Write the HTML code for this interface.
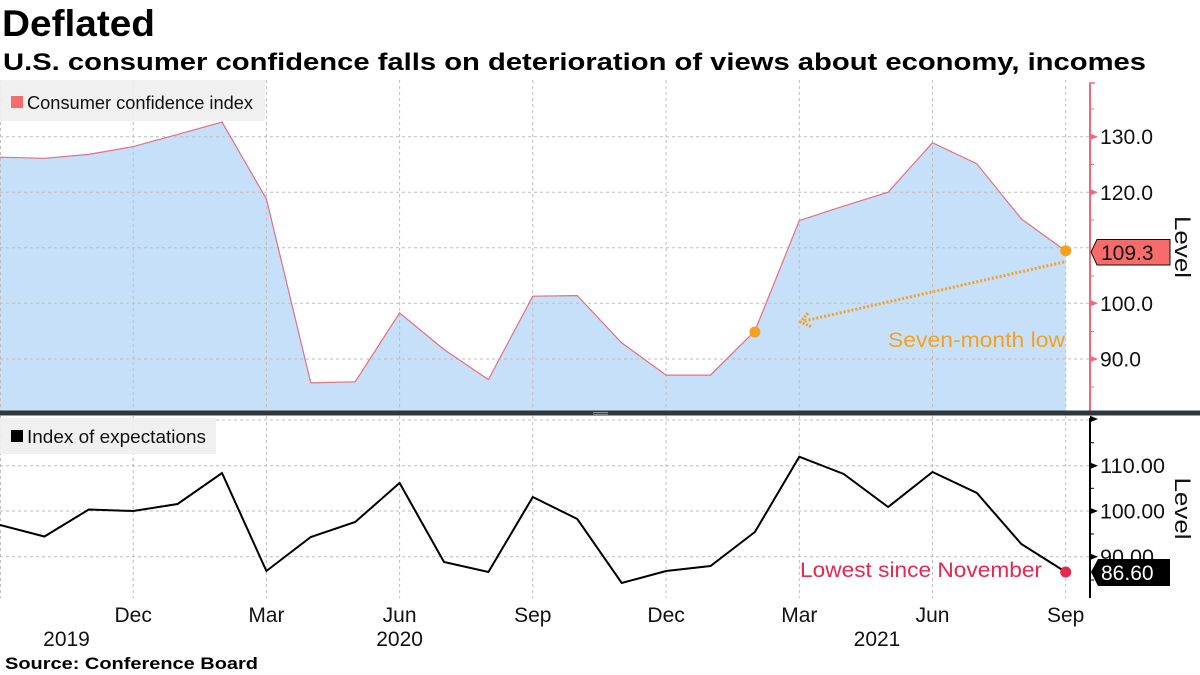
<!DOCTYPE html>
<html><head><meta charset="utf-8"><style>
html,body{margin:0;padding:0;background:#fff;}
svg{display:block;font-family:"Liberation Sans",sans-serif;}
</style></head><body>
<svg width="1200" height="675" viewBox="0 0 1200 675" xmlns="http://www.w3.org/2000/svg">
<rect width="1200" height="675" fill="#fff"/>
<text x="2" y="36" font-size="37" font-weight="bold" textLength="153" lengthAdjust="spacingAndGlyphs">Deflated</text>
<text x="3" y="70" font-size="24" font-weight="bold" textLength="1143" lengthAdjust="spacingAndGlyphs">U.S. consumer confidence falls on deterioration of views about economy, incomes</text>

<!-- top fill -->
<polygon fill="#c7e0fa" points="0,157.2 44.4,158.3 88.8,154.4 133.2,146.6 177.6,134.4 222,122.1 266.4,198.9 310.8,382.9 355.2,381.8 399.6,312.9 444,349.5 488.4,379.6 532.8,296.2 577.3,295.6 621.7,342.9 666.1,375.1 710.5,375.1 754.9,331 799.3,220.6 843.7,206.1 888.1,192.2 932.5,142.7 976.9,163.8 1021.3,218.9 1065.7,251 1065.7,411 0,411"/>

<!-- top grid -->
<g stroke="#bdbdbd" stroke-width="1" stroke-dasharray="3,3" fill="none">
<line x1="0" y1="136.7" x2="1089" y2="136.7"/>
<line x1="0" y1="192.3" x2="1089" y2="192.3"/>
<line x1="0" y1="247.8" x2="1089" y2="247.8"/>
<line x1="0" y1="303.3" x2="1089" y2="303.3"/>
<line x1="0" y1="359" x2="1089" y2="359"/>
<line x1="0.5" y1="80" x2="0.5" y2="411"/>
<line x1="133.2" y1="80" x2="133.2" y2="411"/>
<line x1="266.4" y1="80" x2="266.4" y2="411"/>
<line x1="399.6" y1="80" x2="399.6" y2="411"/>
<line x1="532.8" y1="80" x2="532.8" y2="411"/>
<line x1="666.1" y1="80" x2="666.1" y2="411"/>
<line x1="799.3" y1="80" x2="799.3" y2="411"/>
<line x1="932.5" y1="80" x2="932.5" y2="411"/>
<line x1="1065.7" y1="80" x2="1065.7" y2="411"/>
</g>

<!-- top legend -->
<rect x="0" y="80" width="265" height="41" fill="#efefef" fill-opacity="0.92"/>
<rect x="11" y="96" width="12" height="12" fill="#f76b6b"/>
<text x="27" y="109" font-size="18" textLength="226" lengthAdjust="spacingAndGlyphs" fill="#111">Consumer confidence index</text>

<!-- top line -->
<polyline fill="none" stroke="#e46f80" stroke-width="1.2" points="0,157.2 44.4,158.3 88.8,154.4 133.2,146.6 177.6,134.4 222,122.1 266.4,198.9 310.8,382.9 355.2,381.8 399.6,312.9 444,349.5 488.4,379.6 532.8,296.2 577.3,295.6 621.7,342.9 666.1,375.1 710.5,375.1 754.9,331 799.3,220.6 843.7,206.1 888.1,192.2 932.5,142.7 976.9,163.8 1021.3,218.9 1065.7,251"/>

<!-- arrow annotation -->
<line x1="1064" y1="262" x2="803" y2="321.3" stroke="#f4a21e" stroke-width="3" stroke-dasharray="2,2"/>
<polyline points="811,326.5 800.5,322 808,313" fill="none" stroke="#f4a21e" stroke-width="3" stroke-dasharray="2,1.5"/>
<circle cx="754.9" cy="332" r="5.5" fill="#f4a21e"/>
<circle cx="1065.7" cy="250.7" r="5.5" fill="#f4a21e"/>
<text x="888" y="347" font-size="21" fill="#f4a21e" textLength="177" lengthAdjust="spacingAndGlyphs">Seven-month low</text>

<!-- top axis -->
<g stroke="#ee6a78" fill="#ee6a78">
<line x1="1090" y1="82.5" x2="1090" y2="411" stroke-width="2"/>
<line x1="1090" y1="83" x2="1095" y2="83" stroke-width="1.5"/>
<line x1="1090" y1="109" x2="1094" y2="109" stroke-width="1"/>
<line x1="1090" y1="164.5" x2="1094" y2="164.5" stroke-width="1"/>
<line x1="1090" y1="220" x2="1094" y2="220" stroke-width="1"/>
<line x1="1090" y1="276" x2="1094" y2="276" stroke-width="1"/>
<line x1="1090" y1="331.5" x2="1094" y2="331.5" stroke-width="1"/>
<line x1="1090" y1="387" x2="1094" y2="387" stroke-width="1"/>
<polygon stroke="none" points="1090,133.5 1098,136.7 1090,140"/>
<polygon stroke="none" points="1090,189 1098,192.3 1090,195.5"/>
<polygon stroke="none" points="1090,300 1098,303.3 1090,306.5"/>
<polygon stroke="none" points="1090,355.8 1098,359 1090,362.2"/>
</g>
<g font-size="21" fill="#111">
<text x="1100" y="144.2" textLength="53" lengthAdjust="spacingAndGlyphs">130.0</text>
<text x="1100" y="199.8" textLength="53" lengthAdjust="spacingAndGlyphs">120.0</text>
<text x="1100" y="310.8" textLength="53" lengthAdjust="spacingAndGlyphs">100.0</text>
<text x="1100" y="366.5" textLength="41" lengthAdjust="spacingAndGlyphs">90.0</text>
</g>
<polygon points="1091,252 1097,239.5 1170,239.5 1170,265 1097,265" fill="#f76b6b" stroke="#111" stroke-width="1"/>
<text x="1101" y="260" font-size="21" fill="#111">109.3</text>
<text transform="translate(1175,247) rotate(90)" font-size="22" text-anchor="middle" fill="#111" textLength="62" lengthAdjust="spacingAndGlyphs">Level</text>

<!-- separator -->
<rect x="0" y="410.5" width="1200" height="5" fill="#30373b"/>
<rect x="593" y="412" width="15" height="1" fill="#8a9094"/>
<rect x="593" y="413.8" width="15" height="1" fill="#8a9094"/>

<!-- bottom grid -->
<g stroke="#bdbdbd" stroke-width="1" stroke-dasharray="3,3" fill="none">
<line x1="0" y1="420" x2="1089" y2="420"/>
<line x1="0" y1="465.7" x2="1089" y2="465.7"/>
<line x1="0" y1="511" x2="1089" y2="511"/>
<line x1="0" y1="556.7" x2="1089" y2="556.7"/>
<line x1="0.5" y1="416" x2="0.5" y2="598"/>
<line x1="133.2" y1="416" x2="133.2" y2="598"/>
<line x1="266.4" y1="416" x2="266.4" y2="598"/>
<line x1="399.6" y1="416" x2="399.6" y2="598"/>
<line x1="532.8" y1="416" x2="532.8" y2="598"/>
<line x1="666.1" y1="416" x2="666.1" y2="598"/>
<line x1="799.3" y1="416" x2="799.3" y2="598"/>
<line x1="932.5" y1="416" x2="932.5" y2="598"/>
<line x1="1065.7" y1="416" x2="1065.7" y2="598"/>
</g>

<!-- bottom legend -->
<rect x="0" y="418" width="216" height="36" fill="#efefef" fill-opacity="0.92"/>
<rect x="11" y="430" width="12" height="12" fill="#000"/>
<text x="27" y="443" font-size="18" textLength="179" lengthAdjust="spacingAndGlyphs" fill="#111">Index of expectations</text>

<!-- bottom line -->
<polyline fill="none" stroke="#000" stroke-width="2" stroke-linejoin="miter" points="0,525 44.4,536.5 88.8,509.5 133.2,511 177.6,504 222,473 266.4,571 310.8,537 355.2,522 399.6,483 444,562 488.4,572 532.8,497 577.3,519 621.7,583 666.1,571 710.5,566 754.9,532 799.3,456.7 843.7,474 888.1,507 932.5,472 976.9,493 1021.3,544 1065.7,572"/>
<circle cx="1065.7" cy="572" r="5.5" fill="#e8264e"/>
<text x="800" y="577" font-size="21" fill="#e8264e" textLength="242" lengthAdjust="spacingAndGlyphs">Lowest since November</text>

<!-- bottom axis -->
<g stroke="#000" fill="#000">
<line x1="1090" y1="418" x2="1090" y2="598" stroke-width="2"/>
<polygon stroke="none" points="1090,415.8 1098,419 1090,422.2"/>
<line x1="1090" y1="442.7" x2="1094" y2="442.7" stroke-width="1"/>
<line x1="1090" y1="488.3" x2="1094" y2="488.3" stroke-width="1"/>
<line x1="1090" y1="534" x2="1094" y2="534" stroke-width="1"/>
<line x1="1090" y1="580" x2="1094" y2="580" stroke-width="1"/>
<polygon stroke="none" points="1090,462.5 1098,465.7 1090,469"/>
<polygon stroke="none" points="1090,507.8 1098,511 1090,514.2"/>
<polygon stroke="none" points="1090,553.5 1098,556.7 1090,560"/>
</g>
<g font-size="21" fill="#111">
<text x="1100" y="473.2" textLength="65" lengthAdjust="spacingAndGlyphs">110.00</text>
<text x="1100" y="518.5" textLength="65" lengthAdjust="spacingAndGlyphs">100.00</text>
<text x="1100" y="564.2" textLength="54" lengthAdjust="spacingAndGlyphs">90.00</text>
</g>
<polygon points="1091,572 1098,559 1170,559 1170,586 1098,586" fill="#000"/>
<text x="1101" y="580" font-size="21" fill="#fff">86.60</text>
<text transform="translate(1175,508.5) rotate(90)" font-size="22" text-anchor="middle" fill="#111" textLength="62" lengthAdjust="spacingAndGlyphs">Level</text>

<!-- x axis labels -->
<g font-size="21" fill="#111" text-anchor="middle">
<text x="133.2" y="622">Dec</text>
<text x="266.4" y="622">Mar</text>
<text x="399.6" y="622">Jun</text>
<text x="532.8" y="622">Sep</text>
<text x="666.1" y="622">Dec</text>
<text x="799.3" y="622">Mar</text>
<text x="932.5" y="622">Jun</text>
<text x="1065.7" y="622">Sep</text>
<text x="66.5" y="646">2019</text>
<text x="399.6" y="646">2020</text>
<text x="877" y="646">2021</text>
</g>
<text x="5" y="669" font-size="17" font-weight="bold" textLength="253" lengthAdjust="spacingAndGlyphs" fill="#000">Source: Conference Board</text>
</svg>
</body></html>
